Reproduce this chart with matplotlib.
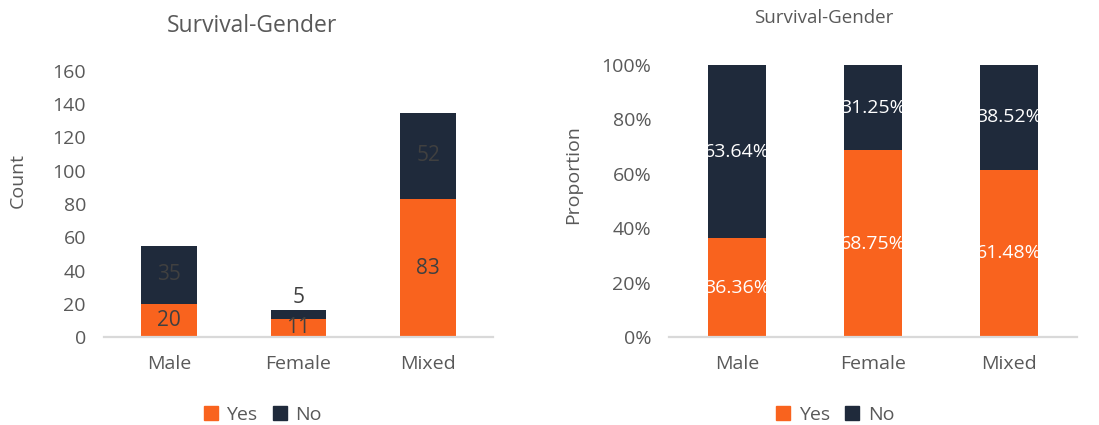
import matplotlib
matplotlib.use("Agg")
import matplotlib.pyplot as plt
from matplotlib.ticker import FuncFormatter
from matplotlib.patches import Patch

categories = ["Male", "Female", "Mixed"]
yes_counts = [20, 11, 83]
no_counts = [35, 5, 52]
yes_pct = [36.36, 68.75, 61.48]
no_pct = [63.64, 31.25, 38.52]
count_ticks = [0, 20, 40, 60, 80, 100, 120, 140, 160]
pct_ticks = [0, 20, 40, 60, 80, 100]

ORANGE = "#F9631E"
NAVY = "#1F2A3B"
GRAY = "#595959"
FONT = ["Open Sans", "DejaVu Sans"]
plt.rcParams["font.family"] = FONT

fig = plt.figure(figsize=(10.99, 4.25), dpi=100)
ax1 = fig.add_axes([0.0946, 0.207, 0.354, 0.626])
ax2 = fig.add_axes([0.609, 0.207, 0.371, 0.640])

x = list(range(len(categories)))
W = 0.43
TS = 14

def style(ax):
    for s in ["top", "right", "left"]:
        ax.spines[s].set_visible(False)
    ax.spines["bottom"].set_color("#D9D9D9")
    ax.spines["bottom"].set_linewidth(1.6)
    ax.tick_params(axis="both", length=0, colors=GRAY, labelsize=TS)
    ax.tick_params(axis="x", pad=13)
    ax.tick_params(axis="y", pad=13)
    ax.set_xlim(-0.5, 2.5)
    ax.set_xticks(x)
    ax.set_xticklabels(categories)

def legend(ax, cx, cy):
    ax.legend(handles=[Patch(color=ORANGE, label="Yes"), Patch(color=NAVY, label="No")],
              loc="center", bbox_to_anchor=(cx, cy), ncol=2, frameon=False,
              fontsize=TS, labelcolor=GRAY, handlelength=0.7, handleheight=0.7,
              handletextpad=0.45, columnspacing=0.8, borderpad=0)

# Left: counts
b1 = ax1.bar(x, yes_counts, W, color=ORANGE)
b2 = ax1.bar(x, no_counts, W, bottom=yes_counts, color=NAVY)
ax1.set_ylim(0, 160)
ax1.set_yticks(count_ticks)
style(ax1)
ax1.set_ylabel("Count", color=GRAY, fontsize=TS)
ax1.yaxis.set_label_coords(-0.198, 0.59)
ax1.set_title("Survival-Gender", color=GRAY, fontsize=16.5, pad=28, x=0.38)
for i in x:
    ax1.text(i, yes_counts[i] / 2, str(yes_counts[i]), ha="center", va="center",
             fontsize=15, color="#404040", clip_on=True)
    if i == 1:
        ax1.text(i, yes_counts[i] + no_counts[i] + 7.5, str(no_counts[i]), ha="center",
                 va="center", fontsize=15, color="#404040")
    else:
        ax1.text(i, yes_counts[i] + no_counts[i] / 2, str(no_counts[i]), ha="center",
                 va="center", fontsize=15, color="#404040", clip_on=True)
legend(ax1, 0.409, -0.293)

# Right: proportions
p1 = ax2.bar(x, yes_pct, W, color=ORANGE)
p2 = ax2.bar(x, no_pct, W, bottom=yes_pct, color=NAVY)
ax2.set_ylim(0, 100)
ax2.set_yticks(pct_ticks)
ax2.yaxis.set_major_formatter(FuncFormatter(lambda v, p: f"{v:.0f}%"))
style(ax2)
ax2.set_ylabel("Proportion", color=GRAY, fontsize=TS)
ax2.yaxis.set_label_coords(-0.214, 0.596)
ax2.set_title("Survival-Gender", color=GRAY, fontsize=13.5, pad=30, x=0.38)
for i in x:
    t = ax2.text(i, yes_pct[i] / 2, f"{yes_pct[i]:.2f}%", ha="center", va="center",
                 fontsize=14, color="white")
    t.set_clip_path(p1[i])
    t = ax2.text(i, yes_pct[i] + no_pct[i] / 2, f"{no_pct[i]:.2f}%", ha="center",
                 va="center", fontsize=14, color="white")
    t.set_clip_path(p2[i])
legend(ax2, 0.407, -0.287)

fig.savefig("out.png", dpi=100)
